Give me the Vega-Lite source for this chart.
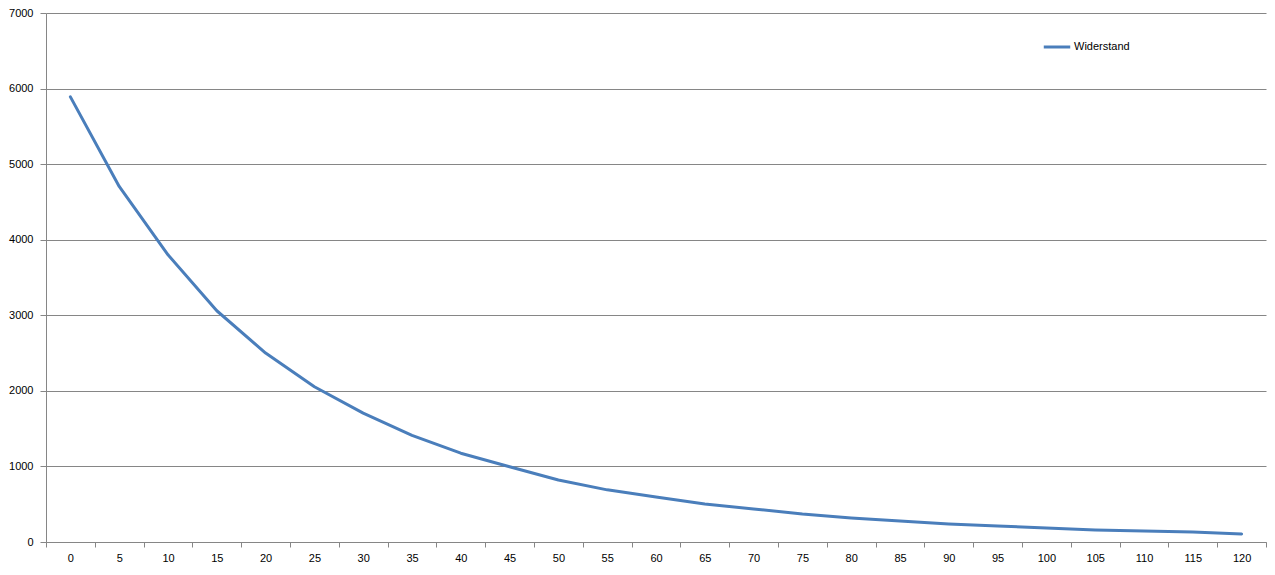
{
  "$schema": "https://vega.github.io/schema/vega-lite/v6.json",
  "autosize": "none",
  "width": 1220,
  "height": 529,
  "padding": {"left": 46, "top": 13, "right": 9, "bottom": 33},
  "background": "white",
  "config": {
    "view": {"stroke": null},
    "font": "Liberation Sans"
  },
  "data": {
    "values": [
      {"t": 0, "r": 5890, "s": "Widerstand"},
      {"t": 5, "r": 4705, "s": "Widerstand"},
      {"t": 10, "r": 3800, "s": "Widerstand"},
      {"t": 15, "r": 3060, "s": "Widerstand"},
      {"t": 20, "r": 2500, "s": "Widerstand"},
      {"t": 25, "r": 2055, "s": "Widerstand"},
      {"t": 30, "r": 1705, "s": "Widerstand"},
      {"t": 35, "r": 1410, "s": "Widerstand"},
      {"t": 40, "r": 1175, "s": "Widerstand"},
      {"t": 45, "r": 995, "s": "Widerstand"},
      {"t": 50, "r": 820, "s": "Widerstand"},
      {"t": 55, "r": 690, "s": "Widerstand"},
      {"t": 60, "r": 595, "s": "Widerstand"},
      {"t": 65, "r": 503, "s": "Widerstand"},
      {"t": 70, "r": 437, "s": "Widerstand"},
      {"t": 75, "r": 370, "s": "Widerstand"},
      {"t": 80, "r": 318, "s": "Widerstand"},
      {"t": 85, "r": 278, "s": "Widerstand"},
      {"t": 90, "r": 238, "s": "Widerstand"},
      {"t": 95, "r": 212, "s": "Widerstand"},
      {"t": 100, "r": 185, "s": "Widerstand"},
      {"t": 105, "r": 160, "s": "Widerstand"},
      {"t": 110, "r": 145, "s": "Widerstand"},
      {"t": 115, "r": 132, "s": "Widerstand"},
      {"t": 120, "r": 106, "s": "Widerstand"}
    ]
  },
  "mark": {"type": "line", "strokeWidth": 3, "strokeCap": "round", "strokeJoin": "round"},
  "encoding": {
    "x": {
      "field": "t",
      "type": "ordinal",
      "sort": null,
      "bandPosition": 0.5,
      "scale": {"type": "band", "paddingInner": 0, "paddingOuter": 0},
      "axis": {
        "title": null,
        "labelAngle": 0,
        "tickBand": "extent",
        "domainColor": "#868686",
        "tickColor": "#868686",
        "tickSize": 5,
        "labelFontSize": 11,
        "labelColor": "#000000",
        "labelPadding": 5,
        "grid": false
      }
    },
    "y": {
      "field": "r",
      "type": "quantitative",
      "scale": {"domain": [0, 7000], "nice": false},
      "axis": {
        "title": null,
        "values": [0, 1000, 2000, 3000, 4000, 5000, 6000, 7000],
        "format": "d",
        "grid": true,
        "gridColor": "#868686",
        "gridWidth": 1,
        "domainColor": "#868686",
        "tickColor": "#868686",
        "tickSize": 6,
        "labelFontSize": 11,
        "labelColor": "#000000",
        "labelPadding": 7
      }
    },
    "color": {
      "field": "s",
      "type": "nominal",
      "scale": {"range": ["#4a7ebb"]},
      "legend": {
        "title": null,
        "orient": "none",
        "legendX": 996,
        "legendY": 19,
        "symbolType": "stroke",
        "symbolSize": 700,
        "symbolStrokeWidth": 3,
        "labelFontSize": 11,
        "labelColor": "#000000",
        "labelOffset": 2
      }
    }
  }
}
